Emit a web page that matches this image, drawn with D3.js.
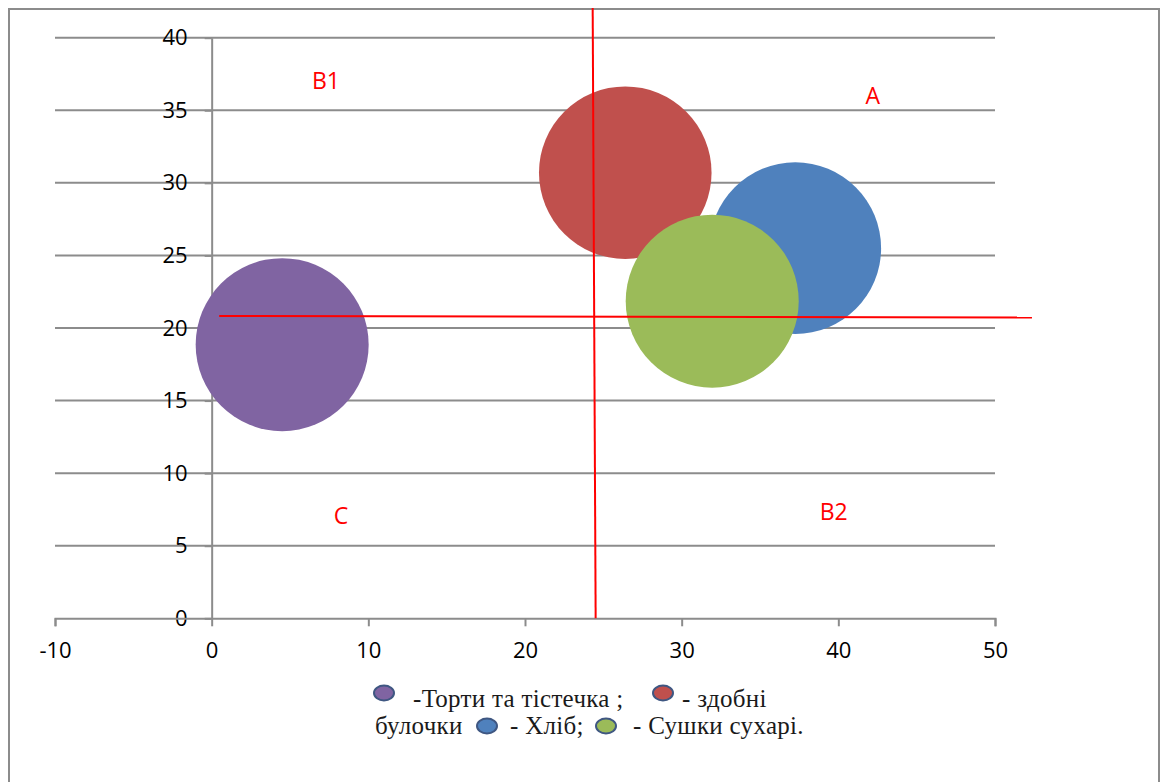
<!DOCTYPE html>
<html>
<head>
<meta charset="utf-8">
<script src="https://cdn.jsdelivr.net/npm/d3@7"></script>
<style>
  body { margin: 0; background: #fff; }
  svg { display: block; }
</style>
</head>
<body>
<div id="chart"></div>
<script>
// Bubble data
const names = ["Торти та тістечка", "здобні булочки", "Хліб", "Сушки сухарі"];
const xValues = [4.5, 26.4, 37.25, 31.95];
const yValues = [18.85, 30.7, 25.5, 21.85];
const sizes = [10, 9.95, 9.85, 10];
const colors = ["#8064A2", "#C0504D", "#4F81BD", "#9BBB59"];

const xTicks = [-10, 0, 10, 20, 30, 40, 50];
const yTicks = [0, 5, 10, 15, 20, 25, 30, 35, 40];

// Red quadrant lines, in data units
const vLine = [[24.32, 42.05], [24.51, 0]];
const hLine = [[0.48, 20.83], [52.36, 20.72]];

// Quadrant labels
const quadLabels = ["B1", "A", "C", "B2"];
const quadX = [7.3, 42.2, 8.25, 39.7];
const quadY = [37.1, 36.05, 7.12, 7.4];

const W = 1168, H = 782;
const svg = d3.select("#chart").append("svg")
    .attr("width", W)
    .attr("height", H);

// outer frame (bottom edge is off the picture)
svg.append("path")
    .attr("d", `M9,${H + 5}V9H1159V${H + 5}`)
    .attr("fill", "none")
    .attr("stroke", "#8c8c8c")
    .attr("stroke-width", 2);

const x = d3.scaleLinear().domain([-10, 50]).range([55, 995]);
const y = d3.scaleLinear().domain([0, 40]).range([618.3, 37.7]);
const r = d3.scaleSqrt().domain([0, d3.max(sizes)]).range([0, 86.5]);

const gridColor = "#8c8c8c";

// horizontal gridlines
svg.append("g")
    .selectAll("line")
    .data(yTicks.filter(d => d > 0))
    .join("line")
    .attr("x1", x(-10))
    .attr("x2", x(50))
    .attr("y1", d => y(d))
    .attr("y2", d => y(d))
    .attr("stroke", gridColor)
    .attr("stroke-width", 2);

// y axis sits on x = 0
const yAxis = svg.append("g")
    .attr("transform", `translate(${x(0)},0)`)
    .call(d3.axisLeft(y).tickValues(yTicks).tickSize(7).tickSizeOuter(0).tickPadding(17)
        .tickFormat(d => String(d)));

// x axis
const xAxis = svg.append("g")
    .attr("transform", `translate(0,${y(0)})`)
    .call(d3.axisBottom(x).tickValues(xTicks).tickSize(8).tickSizeOuter(8).tickPadding(16)
        .tickFormat(d => String(d)));

[xAxis, yAxis].forEach(g => {
    g.selectAll("path, line").attr("stroke", gridColor).attr("stroke-width", 2);
    g.selectAll("text")
        .attr("fill", "#000")
        .style("font-family", "'Open Sans', 'Liberation Sans', sans-serif")
        .style("font-size", "22px");
});

// bubbles
const bubbles = names.map((n, i) => ({ name: n, x: xValues[i], y: yValues[i], size: sizes[i], color: colors[i] }));

svg.append("g")
    .selectAll("circle")
    .data(bubbles)
    .join("circle")
    .attr("cx", d => x(d.x))
    .attr("cy", d => y(d.y))
    .attr("r", d => r(d.size))
    .attr("fill", d => d.color);

// red lines drawn over the bubbles
const line = d3.line().x(d => x(d[0])).y(d => y(d[1]));
[vLine, hLine].forEach(pts => {
    svg.append("path")
        .attr("d", line(pts))
        .attr("fill", "none")
        .attr("stroke", "#ff0000")
        .attr("stroke-width", 2);
});

svg.append("g")
    .selectAll("text")
    .data(quadLabels)
    .join("text")
    .attr("x", (d, i) => x(quadX[i]))
    .attr("y", (d, i) => y(quadY[i]))
    .attr("text-anchor", "middle")
    .attr("dominant-baseline", "central")
    .attr("fill", "#ff0000")
    .style("font-family", "'Open Sans', 'Liberation Sans', sans-serif")
    .style("font-size", "23px")
    .text(d => d);

// legend (two lines of serif text with small ellipse markers)
const legend = svg.append("g")
    .style("font-family", "'Liberation Serif', 'Times New Roman', serif")
    .style("font-size", "25px")
    .style("letter-spacing", "0.3px")
    .attr("fill", "#1a1a1a");

const legendItems = [
    { marker: 0, mx: 384, my: 693, text: "-Торти та тістечка ;", tx: 413, ty: 707 },
    { marker: 1, mx: 663, my: 693, text: "- здобні", tx: 682, ty: 707 },
    { marker: null, text: "булочки", tx: 375, ty: 734 },
    { marker: 2, mx: 487, my: 726, text: "- Хліб;", tx: 510, ty: 734 },
    { marker: 3, mx: 606, my: 726, text: "- Сушки сухарі.", tx: 633, ty: 734 }
];

legendItems.forEach(it => {
    if (it.marker !== null) {
        legend.append("ellipse")
            .attr("cx", it.mx)
            .attr("cy", it.my)
            .attr("rx", 10)
            .attr("ry", 7.5)
            .attr("fill", colors[it.marker])
            .attr("stroke", "#3f5782")
            .attr("stroke-width", 2);
    }
    legend.append("text")
        .attr("x", it.tx)
        .attr("y", it.ty)
        .text(it.text);
});
</script>
</body>
</html>
